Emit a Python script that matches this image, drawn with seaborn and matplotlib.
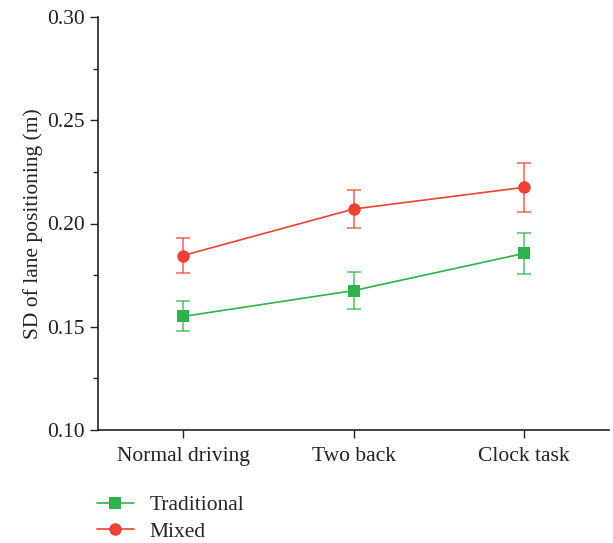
import matplotlib
matplotlib.use("Agg")
import matplotlib.pyplot as plt
import seaborn as sns
import pandas as pd
import numpy as np
from matplotlib.ticker import MultipleLocator

conditions = ["Normal driving", "Two back", "Clock task"]
traditional = [0.155, 0.1675, 0.1855]
traditional_err = [0.0073, 0.009, 0.010]
mixed = [0.1845, 0.207, 0.2175]
mixed_err = [0.0085, 0.0092, 0.012]
series_names = ["Traditional", "Mixed"]
colors = ["#2db34a", "#ef4136"]
markers = ["s", "o"]

sns.set_theme(style="ticks")
plt.rcParams['font.family'] = ['Liberation Serif', 'DejaVu Serif']

df = pd.DataFrame({
    "condition": conditions * 2,
    "x": list(range(len(conditions))) * 2,
    "value": traditional + mixed,
    "err": traditional_err + mixed_err,
    "series": [series_names[0]] * 3 + [series_names[1]] * 3,
})

FS = 15.5
fig = plt.figure(figsize=(6.13, 5.43), dpi=100)
ax = fig.add_axes([98/613, 1-430/543, (609-98)/613, (430-17)/543])

sns.lineplot(data=df, x="x", y="value", hue="series", style="series",
             palette=dict(zip(series_names, colors)),
             markers=dict(zip(series_names, markers)), dashes=False,
             markersize=9, markeredgewidth=0, linewidth=1.2, ax=ax, legend=False)
for name, c in zip(series_names, colors):
    sub = df[df.series == name]
    ax.errorbar(sub.x, sub.value, yerr=sub.err, fmt="none", ecolor=c,
                elinewidth=1.2, capsize=5, capthick=1.2, alpha=0.75, zorder=1)

ax.set_xlim(-0.5, 2.5)
ax.set_ylim(0.10, 0.30)
ax.set_xticks(range(len(conditions)))
ax.set_xticklabels(conditions)
ax.yaxis.set_major_locator(MultipleLocator(0.05))
ax.yaxis.set_minor_locator(MultipleLocator(0.025))
ax.yaxis.set_major_formatter(matplotlib.ticker.FormatStrFormatter("%.2f"))
ax.tick_params(axis="both", which="major", labelsize=FS, length=6, width=1, color="#222222", labelcolor="#222222")
ax.tick_params(axis="y", which="minor", length=3.5, width=1, color="#222222")
ax.tick_params(axis="x", pad=6)
ax.set_xlabel("")
ax.set_ylabel("SD of lane positioning (m)", fontsize=FS, color="#222222", labelpad=3)
sns.despine(ax=ax)
for s in ["left", "bottom"]:
    ax.spines[s].set_linewidth(1.2)
    ax.spines[s].set_color("#222222")

from matplotlib.lines import Line2D
handles = [Line2D([], [], color=c, marker=m, markersize=9, markeredgewidth=0, linewidth=1.2)
           for c, m in zip(colors, markers)]
fig.legend(handles, series_names, loc="upper left", bbox_to_anchor=(97/613, 1-495/543),
           frameon=False, fontsize=FS, handlelength=1.7, handletextpad=0.75,
           labelspacing=0.3, borderaxespad=0, borderpad=0)

fig.savefig("out.png", dpi=100)
